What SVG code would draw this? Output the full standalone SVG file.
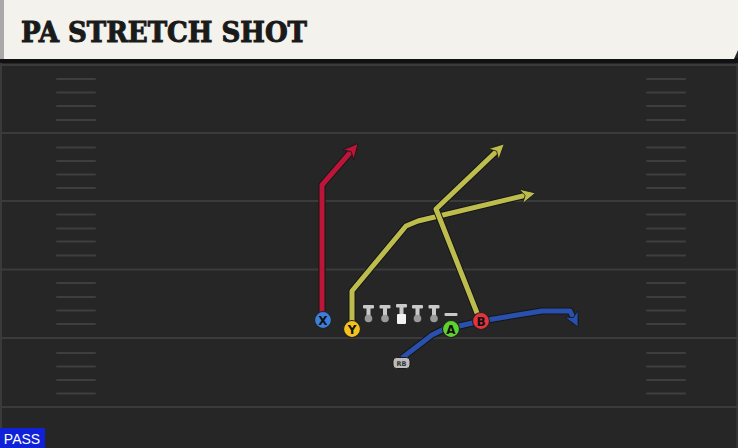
<svg xmlns="http://www.w3.org/2000/svg" width="738" height="448" viewBox="0 0 738 448">
<defs>
<style>
.yard{stroke:#3b3b3b;stroke-width:2}
.hash{stroke:#3e3e3e;stroke-width:2;stroke-linecap:round}
.under{fill:none;stroke:#151515;stroke-width:7;stroke-linejoin:round}
.route{fill:none;stroke-width:5;stroke-linejoin:round}
.red{stroke:#bb1639}
.yel{stroke:#bdbd4e}
.blu{stroke:#2a50ad}
.lbl{font-family:"DejaVu Sans","Liberation Sans",sans-serif;font-weight:bold;font-size:12px;text-anchor:middle;fill:#111}
.pl{stroke:#222;stroke-width:1.2}
.ol{fill:#c9c9c9}
.olb{fill:#9a9a9a}
</style>
<marker id="ahR" viewBox="0 0 10 10" refX="7" refY="5" markerWidth="3" markerHeight="3" orient="auto" markerUnits="strokeWidth"><path d="M0,0 L10,5 L0,10 L3,5 Z" fill="#bb1639" stroke="#151515" stroke-width="0.5"/></marker>
<marker id="ahY" viewBox="0 0 10 10" refX="7" refY="5" markerWidth="3" markerHeight="3" orient="auto" markerUnits="strokeWidth"><path d="M0,0 L10,5 L0,10 L3,5 Z" fill="#bdbd4e" stroke="#151515" stroke-width="0.5"/></marker>
<marker id="ahB" viewBox="0 0 10 10" refX="7" refY="5" markerWidth="3" markerHeight="3" orient="auto" markerUnits="strokeWidth"><path d="M0,0 L10,5 L0,10 L3,5 Z" fill="#2a50ad" stroke="#151515" stroke-width="0.5"/></marker>
<g id="hashset">
<line class="hash" x1="57" y1="0" x2="95" y2="0"/>
<line class="hash" x1="647" y1="0" x2="685" y2="0"/>
</g>
</defs>

<rect x="0" y="0" width="738" height="448" fill="#262626"/>
<rect x="0" y="60" width="2" height="388" fill="#3a3a3a"/>
<rect x="736" y="60" width="2" height="388" fill="#333"/>

<g id="field">
<line class="yard" x1="0" y1="65" x2="738" y2="65"/>
<line class="yard" x1="0" y1="133" x2="738" y2="133"/>
<line class="yard" x1="0" y1="201" x2="738" y2="201"/>
<line class="yard" x1="0" y1="269.5" x2="738" y2="269.5"/>
<line class="yard" x1="0" y1="338" x2="738" y2="338"/>
<line class="yard" x1="0" y1="407" x2="738" y2="407"/>
<use href="#hashset" y="79"/><use href="#hashset" y="92.5"/><use href="#hashset" y="106"/><use href="#hashset" y="120"/>
<use href="#hashset" y="147.5"/><use href="#hashset" y="161"/><use href="#hashset" y="174.5"/><use href="#hashset" y="188"/>
<use href="#hashset" y="214.5"/><use href="#hashset" y="228.5"/><use href="#hashset" y="241.5"/><use href="#hashset" y="255.5"/>
<use href="#hashset" y="283"/><use href="#hashset" y="297"/><use href="#hashset" y="310.5"/><use href="#hashset" y="324"/>
<use href="#hashset" y="353"/><use href="#hashset" y="366.5"/><use href="#hashset" y="380"/><use href="#hashset" y="393.5"/>
</g>

<g id="header">
<rect x="0" y="58" width="738" height="5" fill="#111"/>
<polygon points="0,0 738,0 738,50 734,59 0,59" fill="#f4f2ec"/>
<rect x="0" y="0" width="4" height="59" fill="#a9a9a9"/>
<text x="21" y="42" font-family="'DejaVu Serif','Liberation Serif',serif" font-weight="bold" font-size="27" fill="#1a1a1a" stroke="#1a1a1a" stroke-width="1" textLength="286" lengthAdjust="spacingAndGlyphs">PA STRETCH SHOT</text>
</g>

<g id="connectors">
<path class="under" d="M402,358 L432,335 L442,330 L481,321 L542,311 L570,311 L576,323"/>
<path class="route blu" d="M402,358 L432,335 L442,330 L481,321 L542,311 L570,311 L576,323" marker-end="url(#ahB)"/>
<path class="under" d="M322,318 L322,185 L355,147"/>
<path class="route red" d="M322,318 L322,185 L355,147" marker-end="url(#ahR)"/>
<path class="under" d="M352,325 L352,291 L406,226 L418,221 L531,194"/>
<path class="route yel" d="M352,325 L352,291 L406,226 L418,221 L531,194" marker-end="url(#ahY)"/>
<path class="under" d="M479,318 L436,209 L501,147"/>
<path class="route yel" d="M479,318 L436,209 L501,147" marker-end="url(#ahY)"/>
</g>

<g id="line">
<g id="LT"><rect class="ol" x="363" y="305" width="11" height="3.5" rx="1"/><rect class="ol" x="366.5" y="307" width="4" height="10"/><circle class="olb" cx="368.5" cy="318.5" r="3.8"/></g>
<g id="LG"><rect class="ol" x="379.5" y="305" width="11" height="3.5" rx="1"/><rect class="ol" x="383" y="307" width="4" height="10"/><circle class="olb" cx="385" cy="318.5" r="3.8"/></g>
<g id="C"><rect class="ol" x="396" y="304" width="11" height="3.5" rx="1"/><rect class="ol" x="399.5" y="306" width="4" height="8"/><rect x="397" y="314" width="9" height="10" rx="1" fill="#f2f2f2"/></g>
<g id="RG"><rect class="ol" x="412" y="305" width="11" height="3.5" rx="1"/><rect class="ol" x="415.5" y="307" width="4" height="10"/><circle class="olb" cx="417.5" cy="318.5" r="3.8"/></g>
<g id="RT"><rect class="ol" x="428.5" y="305" width="11" height="3.5" rx="1"/><rect class="ol" x="432" y="307" width="4" height="10"/><circle class="olb" cx="434" cy="318.5" r="3.8"/></g>
<g id="TE"><rect class="ol" x="444.5" y="313" width="13" height="3" rx="1"/></g>
</g>

<g id="X"><circle class="pl" cx="323" cy="320" r="8.5" fill="#3d7fd8"/><text class="lbl" x="323" y="324.5">X</text></g>
<g id="Y"><circle class="pl" cx="352" cy="329" r="8.5" fill="#f3c21c"/><text class="lbl" x="352" y="333.5">Y</text></g>
<g id="A"><circle class="pl" cx="451" cy="329" r="8.5" fill="#5fd12c"/><text class="lbl" x="451" y="333.5">A</text></g>
<g id="B"><circle class="pl" cx="481" cy="321" r="8.5" fill="#e2343c"/><text class="lbl" x="481" y="325.5">B</text></g>
<g id="RB"><rect x="393" y="357.5" width="17" height="11" rx="3.5" fill="#bdbdbd" stroke="#1a1a1a" stroke-width="1"/><text x="401.5" y="366" font-family="'DejaVu Sans',sans-serif" font-size="6.5" font-weight="bold" text-anchor="middle" fill="#333">RB</text></g>

<g id="pass"><rect x="0" y="428" width="45" height="20" fill="#0f22d8"/><text x="22" y="444" font-family="'Liberation Sans','DejaVu Sans',sans-serif" font-size="14" text-anchor="middle" fill="#ffffff">PASS</text></g>
</svg>
